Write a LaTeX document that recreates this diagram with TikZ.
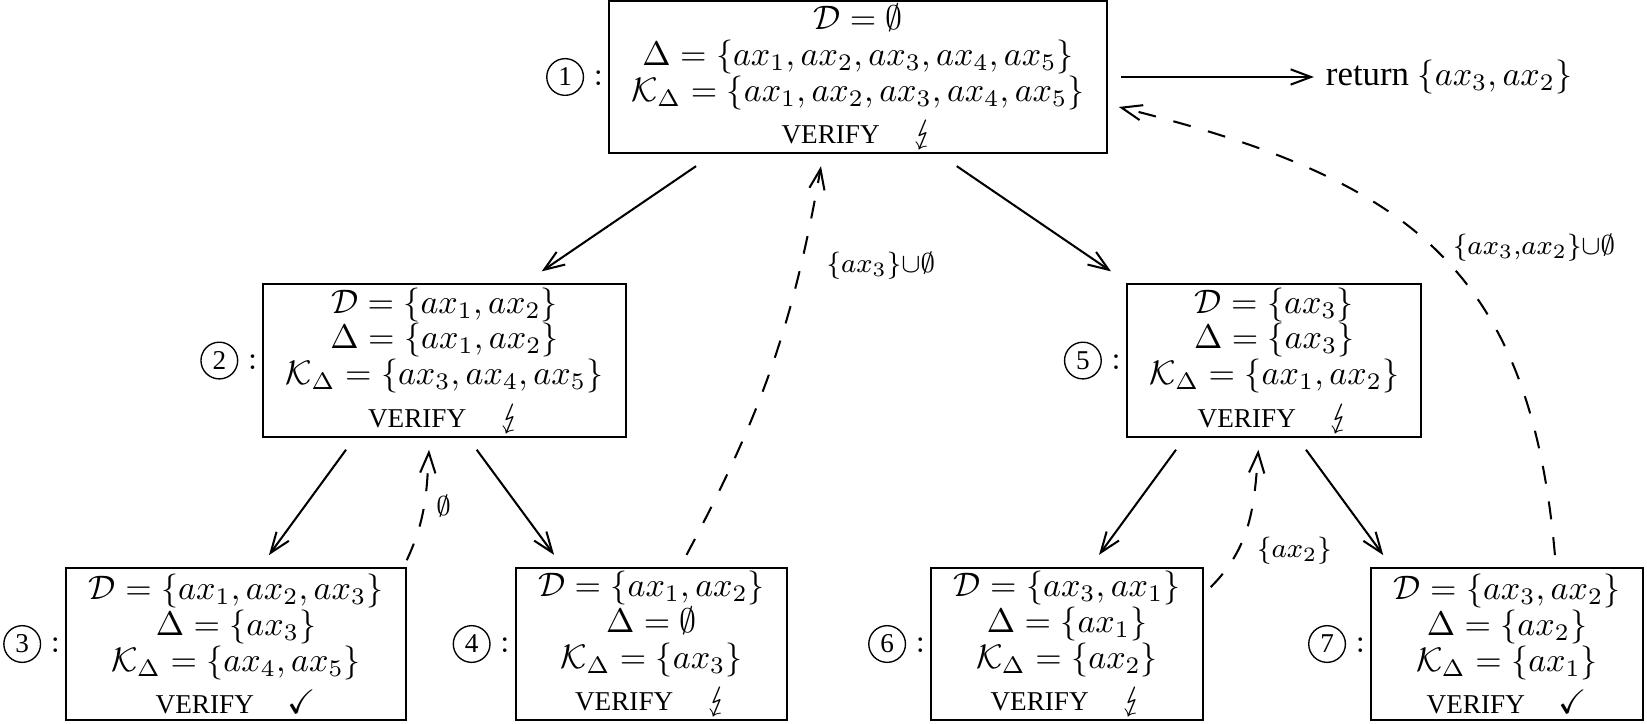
\documentclass[tikz,border=0pt]{standalone}
\usepackage{amsmath, amssymb}
\usepackage{stmaryrd}
\usepackage[no-math]{fontspec}
\setmainfont{Liberation Serif}
\usetikzlibrary{arrows.meta, positioning}

\newcommand{\stepno}[1]{\tikz[baseline={([yshift=-2.6pt]c.center)}]\node[draw, circle, line width=0.4pt, inner sep=0pt, minimum size=10.8pt, font=\fontsize{8}{8}\selectfont] (c) {#1};}
\newcommand{\verify}[1]{{\fontsize{8}{8}\selectfont VERIFY}\hspace{10pt}$#1$}

\begin{document}
\begin{tikzpicture}[
    box/.style={rectangle, draw, line width=0.6pt, align=center, font=\fontsize{10}{10.5}\selectfont, inner xsep=6.6pt, inner ysep=1pt, minimum height=44.7pt},
    num/.style={inner sep=0.5pt},
    tree/.style={-{Straight Barb[length=6pt, width=4.5pt]}, line width=0.6pt},
    back/.style={tree, dash pattern=on 5.3pt off 5.3pt},
    lab/.style={font=\fontsize{8.2}{9}\selectfont},
]
    \useasboundingbox (0,0) rectangle (17.03,-7.476);

    % Root
    \node[box] (box1) at (8.872,-0.796) {$\mathcal{D} = \emptyset$\\ $\Delta = \{ax_1, ax_2, ax_3, ax_4, ax_5\}$\\ $\mathcal{K}_\Delta = \{ax_1, ax_2, ax_3, ax_4, ax_5\}$\\[2pt] \verify{\lightning}};
    \node[num, left=0.8pt of box1] (n1) {$\stepno{1}:$};
    \node[right=2.13cm of box1, font=\fontsize{10.25}{12}\selectfont] (ret) {return~$\{ax_3, ax_2\}$};

    % Second level
    \node[box] (box2) at (4.596,-3.728) {$\mathcal{D} = \{ax_1, ax_2\}$\\ $\Delta = \{ax_1, ax_2\}$\\ $\mathcal{K}_\Delta = \{ax_3, ax_4, ax_5\}$\\[2pt] \verify{\lightning}};
    \node[num, left=0.8pt of box2] (n2) {$\stepno{2}:$};

    \node[box] (box5) at (13.175,-3.728) {$\mathcal{D} = \{ax_3\}$\\ $\Delta = \{ax_3\}$\\ $\mathcal{K}_\Delta = \{ax_1, ax_2\}$\\[2pt] \verify{\lightning}};
    \node[num, left=0.8pt of box5] (n5) {$\stepno{5}:$};

    % Leaves
    \node[box] (box3) at (2.440,-6.659) {$\mathcal{D} = \{ax_1, ax_2, ax_3\}$\\ $\Delta = \{ax_3\}$\\ $\mathcal{K}_\Delta = \{ax_4, ax_5\}$\\[2pt] \verify{\checkmark}};
    \node[num, left=0.8pt of box3] (n3) {$\stepno{3}:$};

    \node[box] (box4) at (6.737,-6.659) {$\mathcal{D} = \{ax_1, ax_2\}$\\ $\Delta = \emptyset$\\ $\mathcal{K}_\Delta = \{ax_3\}$\\[2pt] \verify{\lightning}};
    \node[num, left=0.8pt of box4] (n4) {$\stepno{4}:$};

    \node[box] (box6) at (11.033,-6.659) {$\mathcal{D} = \{ax_3, ax_1\}$\\ $\Delta = \{ax_1\}$\\ $\mathcal{K}_\Delta = \{ax_2\}$\\[2pt] \verify{\lightning}};
    \node[num, left=0.8pt of box6] (n6) {$\stepno{6}:$};

    \node[box] (box7) at (15.582,-6.659) {$\mathcal{D} = \{ax_3, ax_2\}$\\ $\Delta = \{ax_2\}$\\ $\mathcal{K}_\Delta = \{ax_1\}$\\[2pt] \verify{\checkmark}};
    \node[num, left=0.8pt of box7] (n7) {$\stepno{7}:$};

    % Tree edges
    \draw[tree] ([xshift=-1.675cm, yshift=-3.5pt]box1.south) -- ([xshift=1.005cm, yshift=3.5pt]box2.north);
    \draw[tree] ([xshift=1.021cm, yshift=-3.5pt]box1.south) -- ([xshift=-1.687cm, yshift=3.5pt]box5.north);
    \draw[tree] ([xshift=-1.018cm, yshift=-3.5pt]box2.south) -- ([xshift=0.341cm, yshift=3.5pt]box3.north);
    \draw[tree] ([xshift=0.333cm, yshift=-3.5pt]box2.south) -- ([xshift=-1.008cm, yshift=3.5pt]box4.north);
    \draw[tree] ([xshift=-1.015cm, yshift=-3.5pt]box5.south) -- ([xshift=0.331cm, yshift=3.5pt]box6.north);
    \draw[tree] ([xshift=0.329cm, yshift=-3.5pt]box5.south) -- ([xshift=-1.279cm, yshift=3.5pt]box7.north);
    \draw[tree, shorten <=3.8pt] (box1) -- (ret);

    % Back edges
    \draw[back] ([yshift=2pt]box3.north east) to[out=65, in=-93] node[lab, pos=0.5, right=0pt] {$\emptyset$} ([xshift=-0.16cm, yshift=-3.5pt]box2.south);
    \draw[back] ([xshift=0.362cm, yshift=3.5pt]box4.north) to[out=62, in=-100] node[lab, pos=0.77, right=4pt] {$\{ax_3\}{\cup}\emptyset$} ([xshift=-0.383cm, yshift=-3.5pt]box1.south);
    \draw[back] ([xshift=2pt, yshift=-6pt]box6.north east) to[out=45, in=-94] node[lab, pos=0.3, right=2pt] {$\{ax_2\}$} ([xshift=-0.164cm, yshift=-3.5pt]box5.south);
    \draw[back] ([xshift=0.496cm, yshift=3.5pt]box7.north) to[out=95, in=-14, looseness=1.2] node[lab, pos=0.5, right=2pt] {$\{ax_3{,}ax_2\}{\cup}\emptyset$} ([xshift=3.2pt, yshift=-0.31cm]box1.east);

\end{tikzpicture}
\end{document}
